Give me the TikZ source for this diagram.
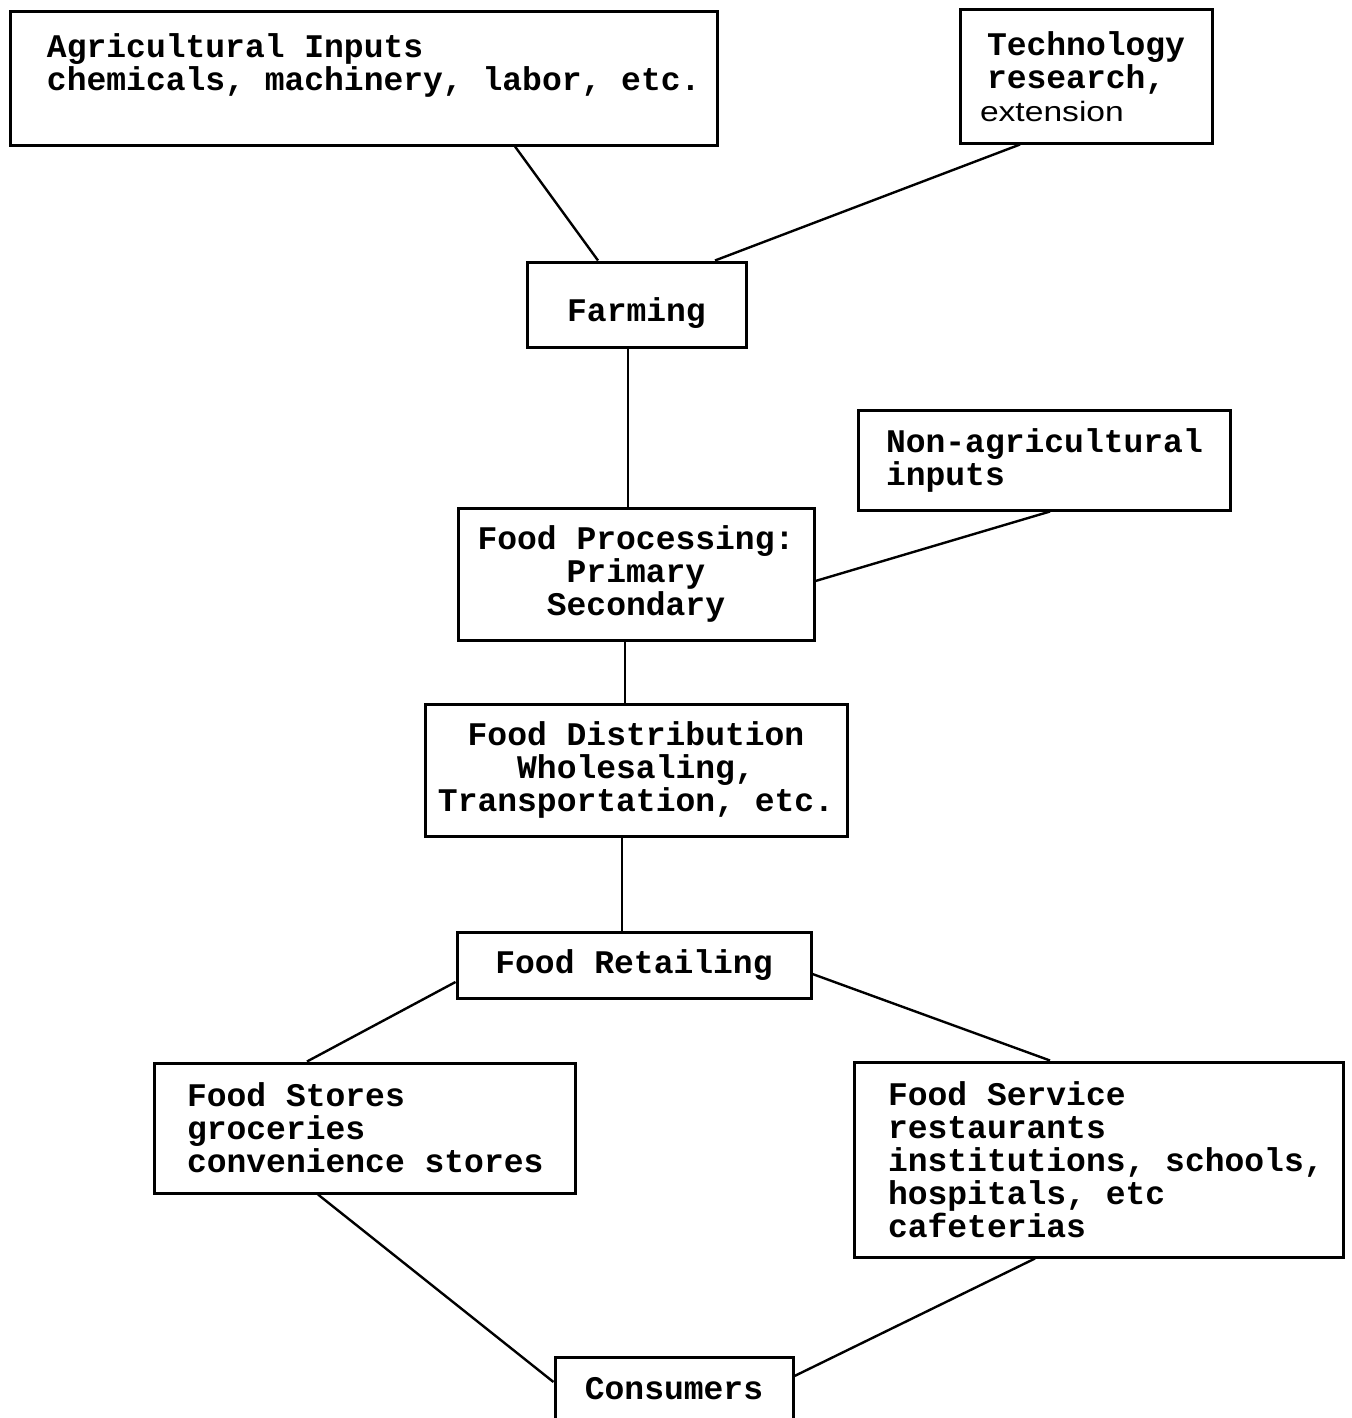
\documentclass[tikz,border=0pt]{standalone}
\usepackage{fontspec}
\setmonofont{Liberation Mono}
\newfontfamily\extfont[FakeStretch=1.2]{Liberation Sans}
\usepackage{tikz}
\usetikzlibrary{calc,positioning}
\newcommand{\boxfont}{\ttfamily\bfseries\fontsize{16.5}{16.5}\selectfont}
\tikzset{
  block/.style={rectangle,draw=black,line width=1.5pt,inner sep=0pt,
    align=center,font=\boxfont},
  leftblock/.style 2 args={block,align=left,text width=#1,
    execute at begin node={\leftskip=#2\relax\spaceskip=0.6em\relax\xspaceskip=0.6em\relax}},
  size/.style 2 args={minimum width=#1,minimum height=#2},
  link/.style={draw=black,line width=1.2pt}
}
\begin{document}
\begin{tikzpicture}[x=0.5pt,y=-0.5pt]
\useasboundingbox (0,0) rectangle (1352,1418);
\node[leftblock={353.5pt}{18.5pt},minimum height=66.5pt] (agri) at (363.5,78.5)
  {Agricultural Inputs\\chemicals, machinery, labor, etc.\rule[-16pt]{0pt}{16pt}};
\node[leftblock={126pt}{13.5pt},minimum height=66.5pt] (tech) at (1086,76.5)
  {Technology\\research,\\\hspace*{-3.5pt}{\extfont\mdseries\fontsize{14}{16.5}\selectfont extension}};
\node[block,size={109.5pt}{42.5pt}] (farm) at (636.5,304.5) {\rule{0pt}{20pt}Farming};
\node[leftblock={186pt}{14pt},minimum height=50pt] (nonagri) at (1044,460) {Non-agricultural\\inputs};
\node[block,size={178pt}{66pt}] (proc) at (636,574) {Food Processing:\\Primary\\Secondary};
\node[block,size={211pt}{66pt}] (dist) at (636,770) {Food Distribution\\Wholesaling,\\Transportation, etc.};
\node[block,size={177pt}{33pt}] (retail) at (634,965) {\rule{0pt}{12pt}Food Retailing};
\node[leftblock={210.5pt}{16.5pt},minimum height=65pt] (stores) at (364.5,1128) {Food Stores\\groceries\\convenience stores};
\node[leftblock={244.5pt}{17pt},minimum height=97.5pt] (service) at (1098.5,1159.5)
  {Food Service\\restaurants\\institutions, schools,\\hospitals, etc\\cafeterias};
\node[block,size={119pt}{32pt}] (consumers) at (674,1389) {Consumers};

\draw[link] ($(agri.south)+(151.5,0)$) -- ($(farm.north)+(-38.5,0)$);
\draw[link] ($(tech.south)+(-66,0)$) -- ($(farm.north)+(78.5,0)$);
\draw[link] ($(farm.south)+(-8.5,0)$) -- ($(proc.north)+(-8,0)$);
\draw[link] ($(nonagri.south)+(6,0)$) -- ($(proc.east)+(0,7)$);
\draw[link] ($(proc.south)+(-11,0)$) -- ($(dist.north)+(-11,0)$);
\draw[link] ($(dist.south)+(-14,0)$) -- ($(retail.north)+(-12,0)$);
\draw[link] ($(retail.west)+(0,17)$) -- ($(stores.north)+(-57.5,0)$);
\draw[link] ($(retail.east)+(0,9)$) -- ($(service.north)+(-48.5,0)$);
\draw[link] ($(stores.south)+(-46.5,0)$) -- ($(consumers.west)+(0,-7)$);
\draw[link] ($(service.south)+(-63.5,0)$) -- ($(consumers.east)+(0,-13)$);
\end{tikzpicture}
\end{document}
